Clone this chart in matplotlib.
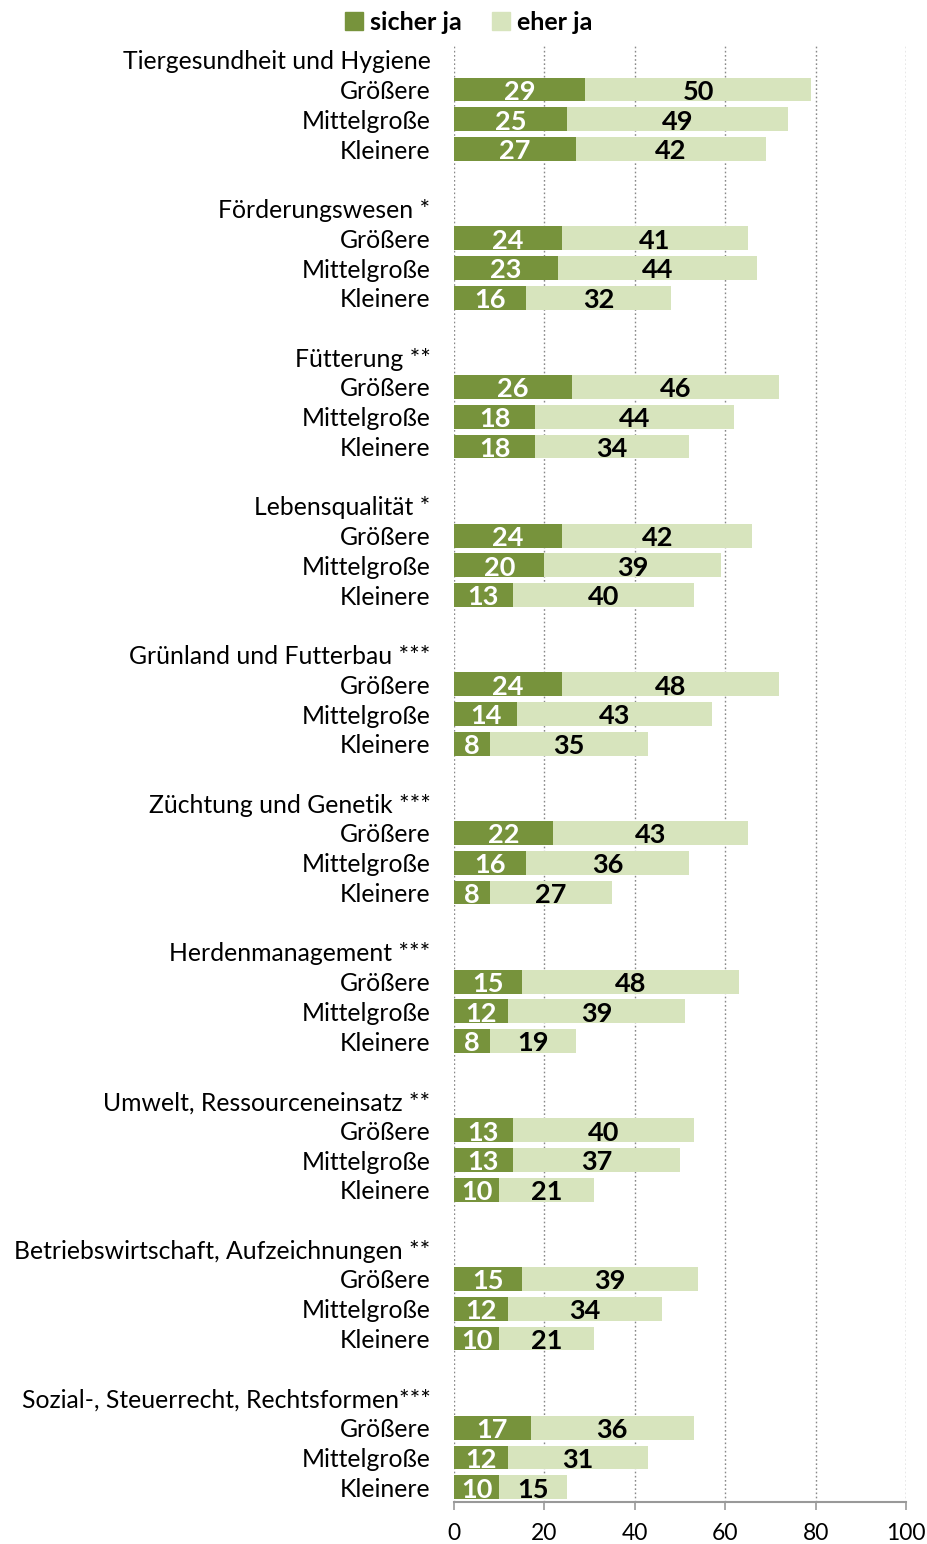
import matplotlib
matplotlib.use("Agg")
import matplotlib.pyplot as plt
from matplotlib.patches import Patch

plt.rcParams['font.family'] = ['Lato', 'DejaVu Sans']

topics = ["Tiergesundheit und Hygiene", "Förderungswesen *", "Fütterung **",
          "Lebensqualität *", "Grünland und Futterbau ***", "Züchtung und Genetik ***",
          "Herdenmanagement ***", "Umwelt, Ressourceneinsatz **",
          "Betriebswirtschaft, Aufzeichnungen **", "Sozial-, Steuerrecht, Rechtsformen***"]
sizes = ["Größere", "Mittelgroße", "Kleinere"]
sicher_ja = [[29, 25, 27], [24, 23, 16], [26, 18, 18], [24, 20, 13], [24, 14, 8],
             [22, 16, 8], [15, 12, 8], [13, 13, 10], [15, 12, 10], [17, 12, 10]]
eher_ja = [[50, 49, 42], [41, 44, 32], [46, 44, 34], [42, 39, 40], [48, 43, 35],
           [43, 36, 27], [48, 39, 19], [40, 37, 21], [39, 34, 21], [36, 31, 15]]
xticks = [0, 20, 40, 60, 80, 100]

dark = "#77933C"
light = "#D7E4BD"

fig = plt.figure(figsize=(9.28, 15.44), dpi=100)
ax = fig.add_axes([454/928, 1 - 1502/1544, 452/928, (1502 - 45)/1544])

tick_pos, tick_lab = [], []
for g, topic in enumerate(topics):
    base = g * 5
    tick_pos.append(base)
    tick_lab.append(topic)
    for k, s in enumerate(sizes):
        y = base + 1 + k
        tick_pos.append(y)
        tick_lab.append(s)
        a = sicher_ja[g][k]
        b = eher_ja[g][k]
        ax.barh(y, a, height=0.8, color=dark, zorder=3)
        ax.barh(y, b, left=a, height=0.8, color=light, zorder=3)
        ax.text(a / 2, y + 0.08, str(a), ha='center', va='center', color='white',
                fontsize=19.5, fontweight='bold', zorder=4)
        ax.text(a + b / 2, y + 0.08, str(b), ha='center', va='center', color='black',
                fontsize=19.5, fontweight='bold', zorder=4)

ax.set_xlim(0, 100)
ax.set_ylim(48.5, -0.5)
ax.set_yticks(tick_pos)
ax.set_yticklabels(tick_lab, fontsize=17.8)
ax.tick_params(axis='y', length=0, pad=17)
ax.set_xticks(xticks)
ax.set_xticklabels([str(v) for v in xticks], fontsize=16.5)
ax.tick_params(axis='x', length=6, width=1.2, color='#999999', pad=9, direction='out')
for sp in ['top', 'right', 'left']:
    ax.spines[sp].set_visible(False)
ax.spines['bottom'].set_color('#999999')
ax.spines['bottom'].set_linewidth(1.5)
for xv in xticks:
    ax.axvline(xv, color='#888888', linestyle=(0, (1.2, 1.8)), linewidth=1.0, zorder=1)

handles = [Patch(color=dark, label='sicher ja'), Patch(color=light, label='eher ja')]
fig.legend(handles=handles, loc='center', bbox_to_anchor=(469/928, 1 - 22/1544), ncol=2,
           frameon=False, prop={'size': 18, 'weight': 'bold'}, handlelength=0.7,
           handleheight=0.7, handletextpad=0.3, columnspacing=1.2)

fig.savefig("out.png", dpi=100)
